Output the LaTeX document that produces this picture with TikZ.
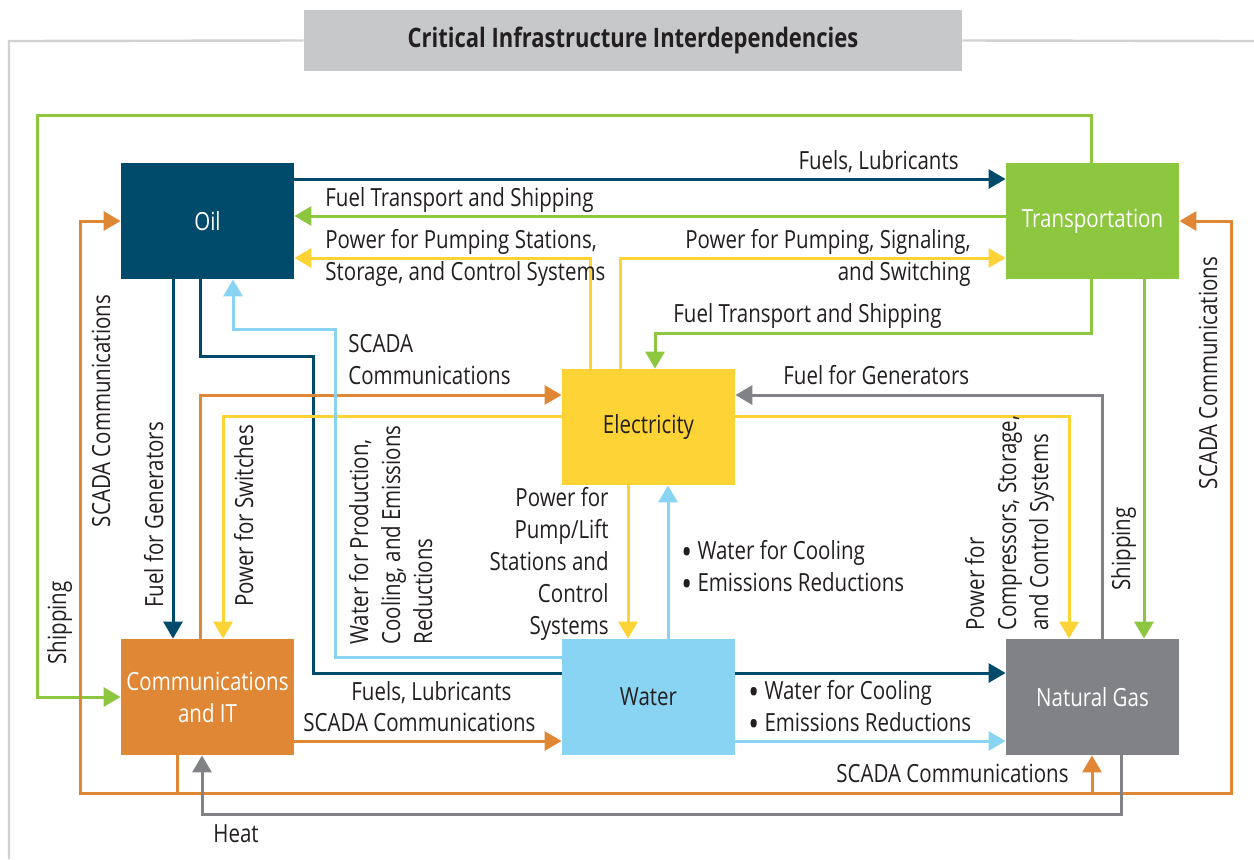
\documentclass[tikz,border=0pt]{standalone}
\usepackage{fontspec}
\setmainfont{Open Sans}[FakeStretch=0.82]
\usetikzlibrary{arrows.meta}
\usetikzlibrary{backgrounds}
\definecolor{oilblue}{HTML}{004B6B}
\definecolor{trgreen}{HTML}{8DC63F}
\definecolor{elyellow}{HTML}{FDD335}
\definecolor{itorange}{HTML}{E08735}
\definecolor{wtblue}{HTML}{8AD4F3}
\definecolor{gasgray}{HTML}{818285}
\definecolor{titlegray}{HTML}{C7C8CA}
\definecolor{framegray}{HTML}{D1D2D4}
\definecolor{txtgray}{HTML}{231F20}
\newcommand{\bigdot}{\raisebox{-0.4ex}{\scalebox{1.4}{\textbullet}}}

\begin{document}
\begin{tikzpicture}[x=0.5pt, y=-0.5pt, text=txtgray,
  font=\fontsize{12.5}{16}\selectfont,
  box/.style={minimum width=86.5pt, minimum height=58pt, inner sep=0pt, align=center},
  link/.style={line width=1.5pt, -{Triangle[length=8.5pt,width=9.5pt]}},
  lbl/.style={inner sep=0pt}]

\useasboundingbox (0,0) rectangle (1254,859);

% title and frame
\node[fill=titlegray, minimum width=329pt, minimum height=30.5pt, inner sep=0pt, font=\fontsize{13.4}{16}\selectfont\bfseries] (title) at (633,40.5) {Critical Infrastructure Interdependencies};
\draw[framegray, line width=1.2pt] (title.west) -- (9,41) -- (9,859);
\draw[framegray, line width=1.2pt] (title.east) -- (1254,41);

% sectors
\node[box, fill=oilblue, text=white] (oil) at (207.5,221) {Oil};
\node[box, fill=trgreen, text=white] (trans) at (1092.5,221) {Transportation};
\node[box, fill=elyellow] (elec) at (648.5,427) {Electricity};
\node[box, fill=itorange, text=white] (comm) at (207.5,697) {Communications\\and IT};
\node[box, fill=wtblue] (water) at (648.5,697) {Water};
\node[box, fill=gasgray, text=white] (gas) at (1092.5,697) {Natural Gas};

% oil
\draw[link, oilblue] (oil.east |- 0,179) -- (trans.west |- 0,179);
\draw[link, oilblue] (173,0 |- oil.south) -- (173,0 |- comm.north);
\begin{scope}[on background layer]
\draw[link, oilblue] (200,0 |- oil.south) -- (200,356) -| (313,673) -- (gas.west |- 0,673);
\end{scope}

% transportation
\draw[link, trgreen] (trans.west |- 0,216) -- (oil.east |- 0,216);
\draw[link, trgreen] (1091,0 |- trans.south) -- (1091,333) -| (655,0 |- elec.north);
\draw[link, trgreen] (1091,0 |- trans.north) -- (1091,115) -- (37,115) |- (comm.west);
\draw[link, trgreen] (1144,0 |- trans.south) -- (1144,0 |- gas.north);

% electricity
\draw[link, elyellow] (590,0 |- elec.north) |- (oil.east |- 0,258);
\draw[link, elyellow] (620,0 |- elec.north) |- (trans.west |- 0,258);
\draw[link, elyellow] (elec.west |- 0,416) -| (223,0 |- comm.north);
\draw[link, elyellow] (elec.east |- 0,416) -| (1069,0 |- gas.north);
\draw[link, elyellow] (628,0 |- elec.south) -- (628,0 |- water.north);

% communications
\draw[link, itorange] (200,0 |- comm.north) |- (elec.west |- 0,395);
\draw[link, itorange] (comm.east |- 0,741) -- (water.west |- 0,741);
\draw[link, itorange] (177,0 |- comm.south) -- (177,793) -| (oil.west -| 80,0) -- (oil.west);
\draw[link, itorange] (177,793) -| (trans.east -| 1231,0) -- (trans.east);
\draw[link, itorange] (1092,793) -- (1092,0 |- gas.south);

% water
\draw[link, wtblue] (water.west |- 0,657) -| (335,329) -| (233,0 |- oil.south);
\draw[link, wtblue] (668,0 |- water.north) -- (668,0 |- elec.south);
\draw[link, wtblue] (water.east |- 0,741) -- (gas.west |- 0,741);

% natural gas
\draw[link, gasgray] (1102,0 |- gas.north) |- (elec.east |- 0,395);
\draw[link, gasgray] (1121,0 |- gas.south) -- (1121,814) -| (202,0 |- comm.south);

% labels (multi-line ones sit on their last line)
\node[lbl, anchor=base east] (l1) at (959,169) {Fuels, Lubricants};
\node[lbl, anchor=base west] (l2) at (325,206) {Fuel Transport and Shipping};
\node[lbl, anchor=base west, align=left] (l3) at (325,280) {Power for Pumping Stations,\\Storage, and Control Systems};
\node[lbl, anchor=base east, align=right] (l4) at (971,280) {Power for Pumping, Signaling,\\and Switching};
\node[lbl, anchor=base west] (l5) at (673,322) {Fuel Transport and Shipping};
\node[lbl, anchor=base west, align=left] (l6) at (348,384) {SCADA\\Communications};
\node[lbl, anchor=base west] (l7) at (783,384) {Fuel for Generators};
\node[lbl, anchor=base east, align=right] (l8) at (609,634) {Power for\\Pump/Lift\\Stations and\\Control\\Systems};
\node[lbl, anchor=base west, align=left] (l9) at (681,591) {\bigdot\ Water for Cooling\\\bigdot\ Emissions Reductions};
\node[lbl, anchor=base west] (l10) at (351,700) {Fuels, Lubricants};
\node[lbl, anchor=base west] (l11) at (303,731) {SCADA Communications};
\node[lbl, anchor=base west, align=left] (l12) at (748,731) {\bigdot\ Water for Cooling\\\bigdot\ Emissions Reductions};
\node[lbl, anchor=base east] (l13) at (1069,782) {SCADA Communications};
\node[lbl, anchor=base west] (l14) at (213,842) {Heat};

% rotated labels
\node[lbl, rotate=90, anchor=base] (r1) at (66,623) {Shipping};
\node[lbl, rotate=90, anchor=base] (r2) at (110,411) {SCADA Communications};
\node[lbl, rotate=90, anchor=base] (r3) at (163,515) {Fuel for Generators};
\node[lbl, rotate=90, anchor=base] (r4) at (253,516) {Power for Switches};
\node[lbl, rotate=90, anchor=base west, align=left] (r5) at (432,645) {Water for Production,\\Cooling, and Emissions\\Reductions};
\node[lbl, rotate=90, anchor=base west, align=left] (r6) at (1048,631) {Power for\\Compressors, Storage,\\and Control Systems};
\node[lbl, rotate=90, anchor=base] (r7) at (1130,549) {Shipping};
\node[lbl, rotate=90, anchor=base] (r8) at (1217,373) {SCADA Communications};

\end{tikzpicture}
\end{document}
